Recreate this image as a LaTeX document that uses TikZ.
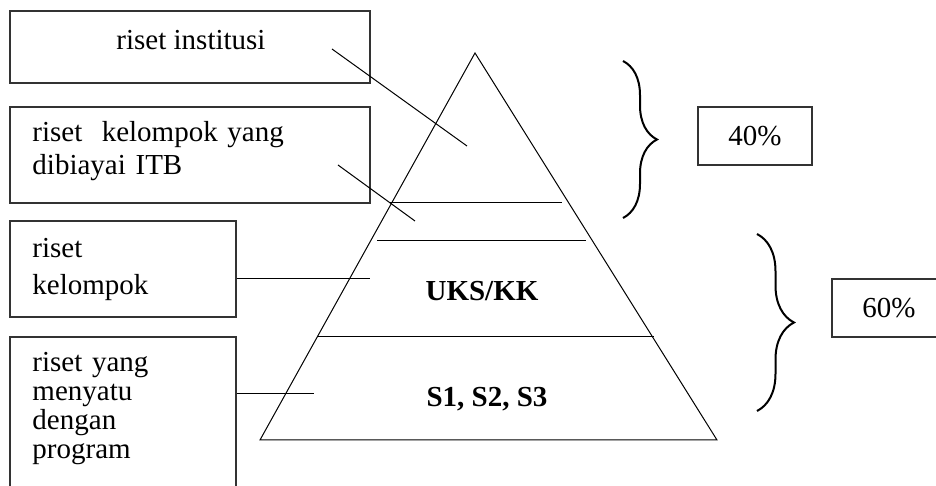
\documentclass[tikz,border=0pt]{standalone}
\usepackage{fontspec}
\setmainfont{Liberation Serif}
\usetikzlibrary{positioning,decorations.pathreplacing}
\tikzset{
    kotak/.style={
           rectangle,
           draw=black!80, line width=0.5pt,
           inner sep=0pt},
    teks/.style={
           inner sep=0pt,
           font=\fontsize{11.6}{13.2}\selectfont},
    garis/.style={
           thin},
    kurung/.style={
           decorate,
           line width=0.8pt}
}
\begin{document}
\begin{tikzpicture}[x=0.4pt, y=-0.4pt]
        \useasboundingbox (0,0) rectangle (936,486);
        % kotak keterangan di kiri
        \node[kotak, minimum width=144pt, minimum height=28.8pt] (inst) at (190,47) {};
        \node[kotak, minimum width=144pt, minimum height=38.4pt] (itb) at (190,155) {};
        \node[kotak, minimum width=90.4pt, minimum height=38.4pt] (kel) at (123,269) {};
        \node[kotak, minimum width=90.4pt, minimum height=64pt] (prog) at (123,417) {};
        \node[teks, anchor=base] (t-inst) at (191,50) {riset institusi};
        \node[teks, anchor=base west, text width=130pt, align=left] (t-itb) at (32,142)
             {riset\ \ kelompok yang\\dibiayai ITB};
        \node[teks, anchor=base west, text width=80pt, align=left,
              font=\fontsize{11.6}{14.8}\selectfont] (t-kel) at (32,258) {riset\\kelompok};
        \node[teks, anchor=base west, text width=80pt, align=left,
              font=\fontsize{11.6}{11.5}\selectfont] (t-prog) at (32,372)
             {riset yang\\menyatu\\dengan\\program};
        % piramida
        \coordinate (puncak) at (475,53);
        \coordinate (kiri) at (260,440);
        \coordinate (kanan) at (717,440);
        \draw[garis] (puncak) -- (kiri) -- (kanan) -- cycle;
        \draw[garis] (390,203) -- (562,203);
        \draw[garis] (377,241) -- (586,241);
        \draw[garis] (318,337) -- (654,337);
        \node[teks, anchor=base, font=\fontsize{11.6}{13.2}\selectfont\bfseries] (uks) at (482,301) {UKS/KK};
        \node[teks, anchor=base, font=\fontsize{11.6}{13.2}\selectfont\bfseries] (strata) at (487,407) {S1, S2, S3};
        % garis penunjuk
        \coordinate (l1a) at (332,49);
        \coordinate (l1b) at (467,146);
        \coordinate (l2a) at (338,165);
        \coordinate (l2b) at (415,221);
        \coordinate (l3) at (370,279);
        \coordinate (l4) at (314,394);
        \draw[garis] (l1a) -- (l1b);
        \draw[garis] (l2a) -- (l2b);
        \draw[garis] (kel.east |- l3) -- (l3);
        \draw[garis] (prog.east |- l4) -- (l4);
        % kurung kurawal dan persentase
        \coordinate (k1a) at (623,61);
        \coordinate (k1b) at (623,218);
        \coordinate (k2a) at (757,234);
        \coordinate (k2b) at (757,411);
        \draw[kurung, decoration={brace, amplitude=13.6pt}] (k1a) -- (k1b);
        \draw[kurung, decoration={brace, amplitude=14.8pt}] (k2a) -- (k2b);
        \node[kotak, teks, minimum width=45.6pt, minimum height=23.2pt] (p40) at (755,136) {40\%};
        \node[kotak, teks, minimum width=45.6pt, minimum height=23.2pt] (p60) at (889,308) {60\%};
    \end{tikzpicture}
\end{document}
